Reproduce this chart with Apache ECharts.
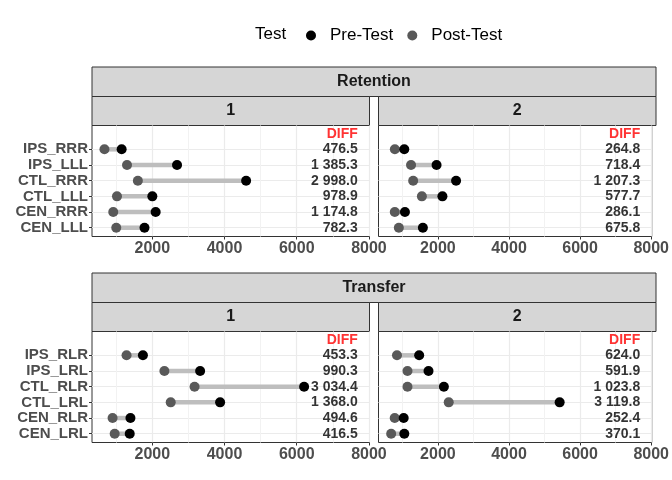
<!DOCTYPE html>
<html>
<head>
<meta charset="utf-8">
<script src="https://cdn.jsdelivr.net/npm/echarts@6/dist/echarts.min.js"></script>
</head>
<body style="margin:0">
<div id="container" style="width:672px;height:480px"></div>
<script>
// categories, listed bottom to top
var retentionCats = ['CEN_LLL', 'CEN_RRR', 'CTL_LLL', 'CTL_RRR', 'IPS_LLL', 'IPS_RRR'];
var transferCats = ['CEN_LRL', 'CEN_RLR', 'CTL_LRL', 'CTL_RLR', 'IPS_LRL', 'IPS_RLR'];

// Retention, block 1
var ret1Pre = [1784, 2093, 2001, 4598, 2685, 1151];
var ret1Post = [1002, 918, 1022, 1600, 1300, 675];
var ret1Diff = [782.3, 1174.8, 978.9, 2998.0, 1385.3, 476.5];
// Retention, block 2
var ret2Pre = [1578, 1074, 2128, 2512, 1963, 1055];
var ret2Post = [902, 788, 1550, 1305, 1245, 790];
var ret2Diff = [675.8, 286.1, 577.7, 1207.3, 718.4, 264.8];
// Transfer, block 1
var tra1Pre = [1375, 1395, 3878, 6204, 3325, 1740];
var tra1Post = [958, 900, 2510, 3170, 2335, 1287];
var tra1Diff = [416.5, 494.6, 1368.0, 3034.4, 990.3, 453.3];
// Transfer, block 2
var tra2Pre = [1056, 1038, 5425, 2169, 1737, 1474];
var tra2Post = [686, 786, 2305, 1145, 1145, 850];
var tra2Diff = [370.1, 252.4, 3119.8, 1023.8, 591.9, 624.0];

var xTicks = [2000, 4000, 6000, 8000];
var xMinorTicks = [1000, 3000, 5000, 7000];

var X_MIN = 330, X_MAX = 8015;
var LABEL_X = 7690;
var PRE_COLOR = '#000000', POST_COLOR = '#595959', SEG_COLOR = '#bebebe';

var panels = [
    {cats: retentionCats, pre: ret1Pre, post: ret1Post, diff: ret1Diff, left: 92, top: 125.5, showY: true},
    {cats: retentionCats, pre: ret2Pre, post: ret2Post, diff: ret2Diff, left: 378.5, top: 125.5, showY: false},
    {cats: transferCats, pre: tra1Pre, post: tra1Post, diff: tra1Diff, left: 92, top: 331.5, showY: true},
    {cats: transferCats, pre: tra2Pre, post: tra2Post, diff: tra2Diff, left: 378.5, top: 331.5, showY: false}
];
var PW = 277.5, PH = 111;

function fmtDiff(v) {
    var s = v.toFixed(1).split('.');
    s[0] = s[0].replace(/\B(?=(\d{3})+(?!\d))/g, ' ');
    return s.join('.');
}

var grids = [], xAxes = [], yAxes = [], series = [];
var rows = [1, 2, 3, 4, 5, 6];

panels.forEach(function (p, i) {
    grids.push({
        left: p.left, top: p.top, width: PW, height: PH,
        show: true, borderColor: '#333333', borderWidth: 1, backgroundColor: '#fff'
    });
    xAxes.push({
        type: 'value', gridIndex: i, min: X_MIN, max: X_MAX,
        axisLine: {show: false},
        axisTick: {show: true, length: 3, customValues: xTicks, lineStyle: {color: '#333333'}},
        axisLabel: {
            customValues: xTicks, margin: 4, color: '#4d4d4d',
            fontFamily: 'Liberation Sans', fontWeight: 'bold', fontSize: 16,
            formatter: function (v) { return String(v); }
        },
        splitLine: {show: true, lineStyle: {color: '#ebebeb', width: 1.2}},
        z: 1
    });
    var cats = p.cats;
    yAxes.push({
        type: 'value', gridIndex: i, min: 0.44, max: 7.52,
        axisLine: {show: false},
        axisTick: {show: p.showY, length: 3, customValues: rows, lineStyle: {color: '#333333'}},
        axisLabel: {
            show: p.showY, customValues: rows, margin: 4, color: '#4d4d4d',
            fontFamily: 'Liberation Sans', fontWeight: 'bold', fontSize: 15,
            formatter: function (v) { return cats[Math.round(v) - 1]; }
        },
        splitLine: {show: true, lineStyle: {color: '#ebebeb', width: 1.2}}
    });

    series.push({
        type: 'custom', xAxisIndex: i, yAxisIndex: i, silent: true, z: 2,
        encode: {x: [0, 1], y: 2},
        renderItem: function (params, api) {
            var a = api.coord([api.value(0), api.value(2)]);
            var b = api.coord([api.value(1), api.value(2)]);
            return {
                type: 'line',
                shape: {x1: a[0], y1: a[1], x2: b[0], y2: b[1]},
                style: {stroke: SEG_COLOR, lineWidth: 4.5}
            };
        },
        data: p.post.map(function (v, k) { return [v, p.pre[k], k + 1]; })
    });
    series.push({
        type: 'scatter', name: 'Post-Test', xAxisIndex: i, yAxisIndex: i, z: 3,
        symbolSize: 10, itemStyle: {color: POST_COLOR, opacity: 1},
        data: p.post.map(function (v, k) { return [v, k + 1]; })
    });
    series.push({
        type: 'scatter', name: 'Pre-Test', xAxisIndex: i, yAxisIndex: i, z: 4,
        symbolSize: 10, itemStyle: {color: PRE_COLOR, opacity: 1},
        data: p.pre.map(function (v, k) { return [v, k + 1]; })
    });
    var labelData = p.diff.map(function (d, k) {
        return {value: [LABEL_X, k + 1], name: fmtDiff(d)};
    });
    labelData.push({value: [LABEL_X, 7], name: 'DIFF', label: {color: '#ff0000'}});
    series.push({
        type: 'scatter', xAxisIndex: i, yAxisIndex: i, z: 5, silent: true,
        symbolSize: 0,
        label: {
            show: true, position: 'left', distance: 0, formatter: '{b}',
            color: '#000', fontFamily: 'Liberation Sans', fontWeight: 'bold', fontSize: 14
        },
        data: labelData
    });
});

// minor vertical grid lines
panels.forEach(function (p, i) {
    xAxes.push({
        type: 'value', gridIndex: i, min: X_MIN, max: X_MAX,
        axisLine: {show: false},
        axisTick: {show: false, customValues: xMinorTicks},
        axisLabel: {show: false, customValues: xMinorTicks},
        splitLine: {show: true, lineStyle: {color: '#f2f2f2', width: 1}}
    });
});

function strip(x, y, w, h, text) {
    return {
        type: 'group', children: [
            {type: 'rect', shape: {x: x, y: y, width: w, height: h},
             style: {fill: '#d6d6d6', stroke: '#333333', lineWidth: 1}},
            {type: 'text', x: x + w / 2, y: y + h / 2,
             style: {text: text, align: 'center', verticalAlign: 'middle',
                     font: 'bold 16px "Liberation Sans"', fill: '#1a1a1a'}}
        ]
    };
}

var fullW = 378.5 + PW - 92;
var graphics = [
    strip(92, 67, fullW, 29.5, 'Retention'),
    strip(92, 96.5, PW, 29, '1'),
    strip(378.5, 96.5, PW, 29, '2'),
    strip(92, 273, fullW, 29.5, 'Transfer'),
    strip(92, 302.5, PW, 29, '1'),
    strip(378.5, 302.5, PW, 29, '2')
];

var chart = echarts.init(document.getElementById('container'));
chart.setOption({
    backgroundColor: '#fff',
    animation: false,
    title: {
        text: 'Test', left: 250, top: 21,
        textStyle: {fontFamily: 'Liberation Sans', fontWeight: 'normal', fontSize: 17, color: '#000'}
    },
    legend: {
        data: ['Pre-Test', 'Post-Test'], left: 301, top: 22,
        icon: 'circle', itemWidth: 10, itemHeight: 10, itemGap: 14,
        textStyle: {fontFamily: 'Liberation Sans', fontSize: 17, color: '#000', padding: [0, 0, 0, 9]}
    },
    grid: grids,
    xAxis: xAxes,
    yAxis: yAxes,
    series: series,
    graphic: graphics
});
</script>
</body>
</html>
